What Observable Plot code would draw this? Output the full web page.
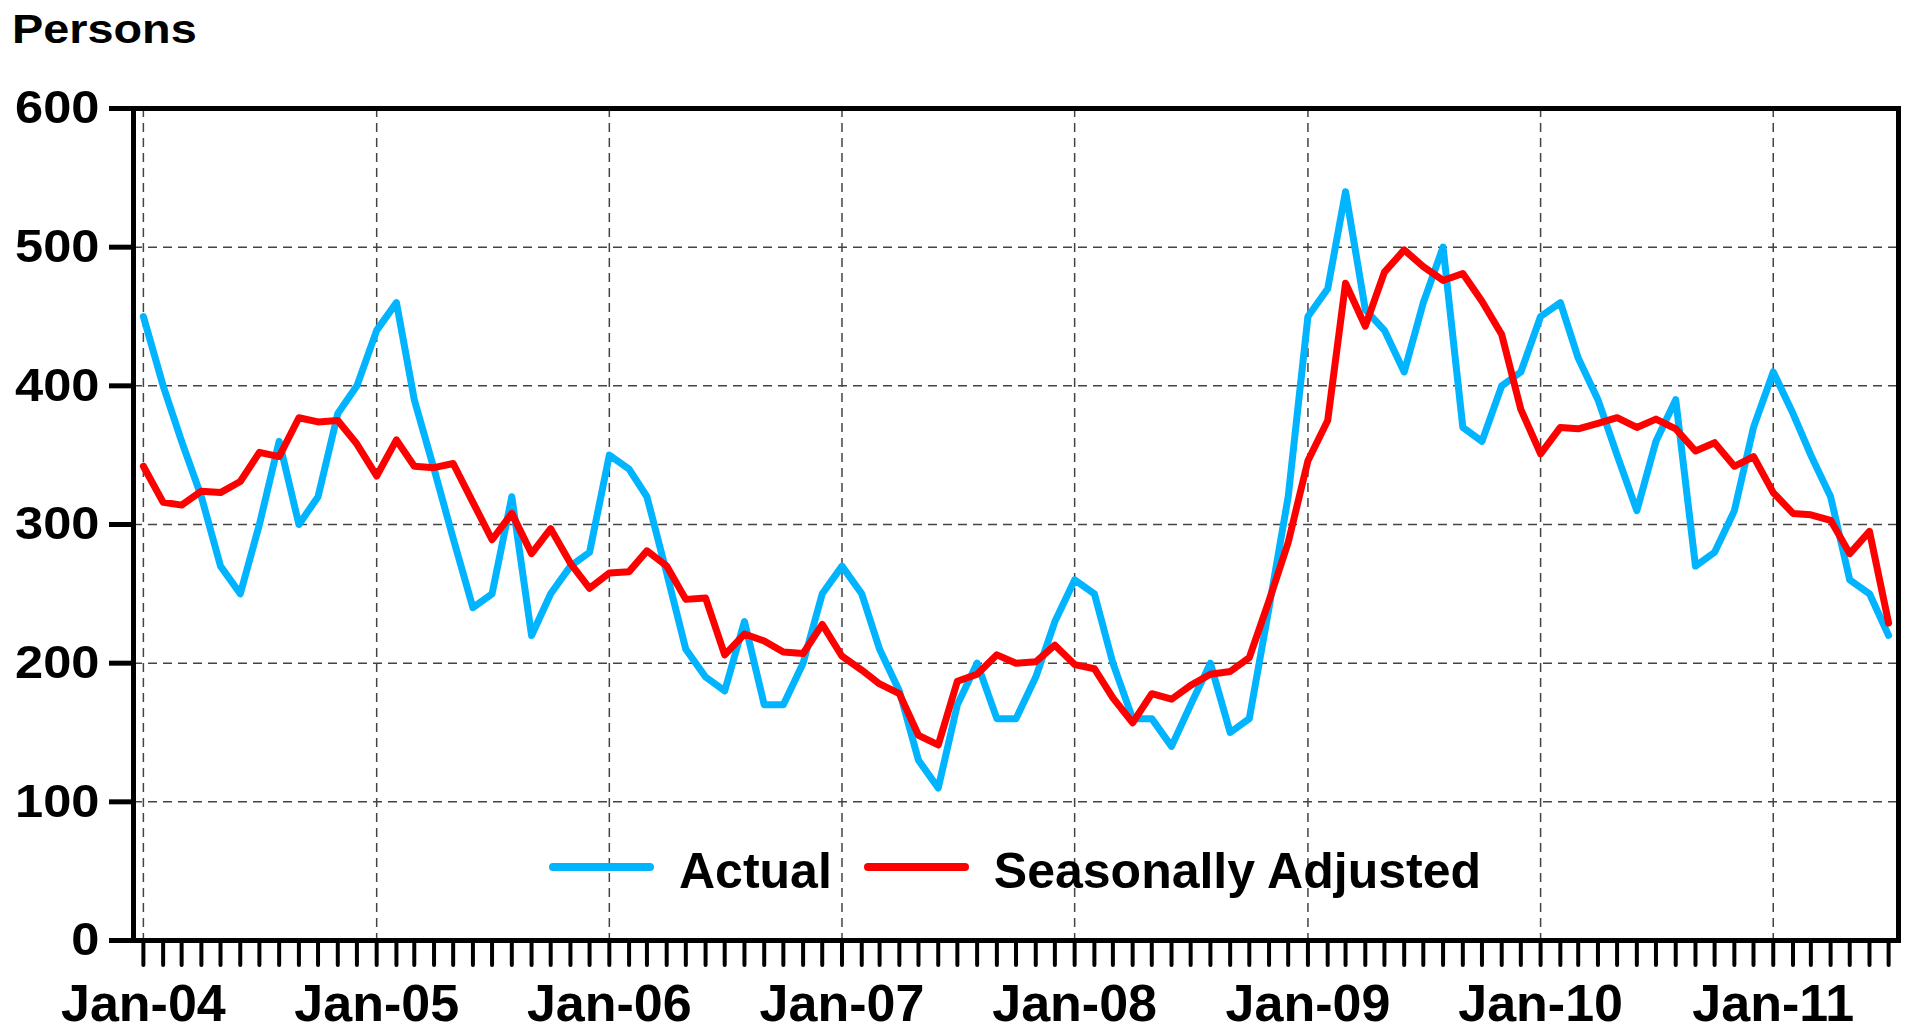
<!DOCTYPE html>
<html>
<head>
<meta charset="utf-8">
<script src="https://cdn.jsdelivr.net/npm/d3@7"></script>
<script src="https://cdn.jsdelivr.net/npm/@observablehq/plot@0.6"></script>
<style>
  html, body { margin: 0; padding: 0; background: #fff; }
  #wrap { position: relative; width: 1906px; height: 1031px; overflow: hidden;
          font-family: "Liberation Sans", Arial, Helvetica, sans-serif; font-weight: bold; color: #000; }
  #title { position: absolute; left: 12px; top: 9px; font-size: 40px; line-height: 1;
           transform: scaleX(1.17); transform-origin: left top; white-space: nowrap; }
  #legend { position: absolute; left: 549px; top: 846px; display: flex; align-items: center;
            font-size: 50px; line-height: 1; white-space: nowrap; }
  #legend .sw { width: 105px; height: 8px; border-radius: 4px; position: relative; top: -4px; margin-right: 25px; }
  #legend .item { display: flex; align-items: center; margin-right: 32px; }
  #chart { position: absolute; left: 0; top: 0; }
</style>
</head>
<body>
<div id="wrap">
  <div id="chart"></div>
  <div id="title">Persons</div>
  <div id="legend"></div>
</div>
<script>
// ---- Data ----
const firstMonth = [2004, 0];   // Jan-04
const lastMonth = [2011, 6];    // Jul-11

const actual = [
  450, 400, 360, 320, 270, 250, 300, 360, 300, 320, 380, 400,   // 2004
  440, 460, 390, 340, 290, 240, 250, 320, 220, 250, 270, 280,   // 2005
  350, 340, 320, 265, 210, 190, 180, 230, 170, 170, 200, 250,   // 2006
  270, 250, 210, 180, 130, 110, 170, 200, 160, 160, 190, 230,   // 2007
  260, 250, 200, 160, 160, 140, 170, 200, 150, 160, 240, 320,   // 2008
  450, 470, 540, 455, 440, 410, 460, 500, 370, 360, 400, 410,   // 2009
  450, 460, 420, 390, 350, 310, 360, 390, 270, 280, 310, 370,   // 2010
  410, 380, 350, 320, 260, 250, 220                             // 2011
];

const seasonallyAdjusted = [
  342, 316, 314, 324, 323, 331, 352, 349, 377, 374, 375, 358,   // 2004
  335, 361, 342, 341, 344, 316, 289, 308, 279, 297, 272, 254,   // 2005
  265, 266, 281, 270, 246, 247, 206, 221, 216, 208, 207, 228,   // 2006
  205, 195, 185, 178, 148, 141, 187, 192, 206, 200, 201, 213,   // 2007
  199, 196, 175, 157, 178, 174, 184, 192, 194, 204, 245, 287,   // 2008
  346, 375, 474, 443, 482, 498, 486, 476, 481, 461, 437, 383,   // 2009
  351, 370, 369, 373, 377, 370, 376, 369, 353, 359, 342, 349,   // 2010
  323, 308, 307, 303, 279, 295, 229                             // 2011
];

const yTicks = [0, 100, 200, 300, 400, 500, 600];
const yGrid = [100, 200, 300, 400, 500];
const xTickLabels = ["Jan-04", "Jan-05", "Jan-06", "Jan-07", "Jan-08", "Jan-09", "Jan-10", "Jan-11"];
const seriesNames = ["Actual", "Seasonally Adjusted"];
const seriesColors = ["#00B4FF", "#FF0000"];
const yTitle = "Persons";

// ---- Build table ----
const months = d3.utcMonth.range(
  new Date(Date.UTC(firstMonth[0], firstMonth[1], 1)),
  new Date(Date.UTC(lastMonth[0], lastMonth[1] + 1, 1))
);
const table = months.map((d, i) => ({date: d, actual: actual[i], sa: seasonallyAdjusted[i]}));
const januaries = months.filter(d => d.getUTCMonth() === 0);
const labelFor = d => xTickLabels[januaries.findIndex(j => +j === +d)] ?? "";

const fontFamily = "'Liberation Sans', Arial, Helvetica, sans-serif";

const chart = Plot.plot({
  width: 1906,
  height: 1031,
  marginLeft: 133,
  marginRight: 8,
  marginTop: 108,
  marginBottom: 91,
  style: {fontFamily, fontWeight: "bold", color: "#000", background: "#fff", overflow: "visible"},
  x: {type: "utc", domain: [new Date(Date.UTC(2003, 11, 16, 12)), new Date(Date.UTC(2011, 6, 16, 12))]},
  y: {domain: [0, 600]},
  marks: [
    Plot.gridY(yGrid, {stroke: "#444", strokeOpacity: 1, strokeWidth: 1.5, strokeDasharray: "9,6"}),
    Plot.gridX(januaries, {stroke: "#444", strokeOpacity: 1, strokeWidth: 1.5, strokeDasharray: "9,6"}),
    Plot.lineY(table, {x: "date", y: "actual", stroke: seriesColors[0], strokeWidth: 7, strokeLinejoin: "round", strokeLinecap: "round"}),
    Plot.lineY(table, {x: "date", y: "sa", stroke: seriesColors[1], strokeWidth: 7, strokeLinejoin: "round", strokeLinecap: "round"}),
    Plot.frame({stroke: "#000", strokeWidth: 5}),
    Plot.axisY({ticks: yTicks, tickSize: 24, tickPadding: 10, fontSize: 46, fontWeight: "bold",
                strokeWidth: 5, stroke: "#000", label: null, tickFormat: d => String(d)}),
    Plot.axisX({ticks: months, tickSize: 25, tickPadding: 0, strokeWidth: 4, stroke: "#000",
                strokeLinecap: "round", tickFormat: () => "", label: null}),
    Plot.axisX({ticks: januaries, tickSize: 0, tickPadding: 44, fontSize: 52, fontWeight: "bold",
                tickFormat: labelFor, label: null})
  ]
});

// widen y tick labels slightly (around their right-hand anchor) to match the reference lettering
d3.select(chart).selectAll("g[aria-label='y-axis tick label'] text").each(function() {
  const t = this.getAttribute("transform") || "";
  this.setAttribute("transform", `${t} scale(1.1,1)`);
});

document.getElementById("chart").appendChild(chart);
document.getElementById("title").textContent = yTitle;

const legend = d3.select("#legend");
seriesNames.forEach((name, i) => {
  const item = legend.append("div").attr("class", "item");
  item.append("div").attr("class", "sw").style("background", seriesColors[i]);
  item.append("span").text(name);
});
</script>
</body>
</html>
